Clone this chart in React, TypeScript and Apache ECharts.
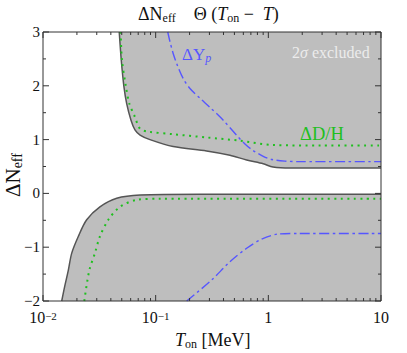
import React, { useEffect, useRef } from "react";
import * as echarts from "echarts";

// Boundary of the upper excluded region [T_on (MeV), ΔNeff]
const upperBoundary: [number, number][] = [
  [0.0475, 3.0], [0.0495, 2.48], [0.0523, 1.98], [0.0553, 1.67], [0.0604, 1.36],
  [0.0655, 1.18], [0.0727, 1.085], [0.089, 1.0], [0.143, 0.87], [0.283, 0.79],
  [0.456, 0.71], [0.642, 0.62], [0.901, 0.55], [1.1, 0.49], [1.56, 0.47], [10, 0.47],
];
// Boundary of the lower excluded region
const lowerBoundary: [number, number][] = [
  [0.01466, -2.0], [0.0155, -1.75], [0.01677, -1.43], [0.01799, -1.11], [0.02057, -0.8],
  [0.02442, -0.49], [0.032, -0.25], [0.0451, -0.09], [0.0727, -0.03], [0.247, -0.015], [10, -0.015],
];
// ΔD/H contours
const dhUpper: [number, number][] = [
  [0.0489, 3.0], [0.0502, 2.48], [0.0545, 1.98], [0.0584, 1.67], [0.0655, 1.42],
  [0.0727, 1.2], [0.085, 1.15], [0.143, 1.1], [0.283, 1.04], [0.56, 0.98],
  [1.1, 0.9], [2.9, 0.89], [10, 0.89],
];
const dhLower: [number, number][] = [
  [0.02325, -2.0], [0.02576, -1.43], [0.0289, -1.11], [0.032, -0.8], [0.038, -0.49],
  [0.0482, -0.25], [0.0678, -0.12], [0.109, -0.1], [10, -0.1],
];
// ΔYp contours
const ypUpper: [number, number][] = [
  [0.128, 3.0], [0.134, 2.82], [0.143, 2.6], [0.1545, 2.4], [0.176, 2.13],
  [0.2015, 1.95], [0.247, 1.77], [0.3032, 1.6], [0.398, 1.36], [0.523, 1.08],
  [0.62, 0.92], [0.73, 0.8], [0.901, 0.69], [1.076, 0.63], [1.404, 0.6], [1.9, 0.59], [10, 0.59],
];
const ypLower: [number, number][] = [
  [0.1884, -2.0], [0.314, -1.61], [0.456, -1.27], [0.642, -1.02], [0.873, -0.85],
  [1.224, -0.755], [1.9, -0.745], [10, -0.745],
];

const xMajorTicks = [0.01, 0.1, 1, 10];
const xMinorTicks = [
  0.02, 0.03, 0.04, 0.05, 0.06, 0.07, 0.08, 0.09,
  0.2, 0.3, 0.4, 0.5, 0.6, 0.7, 0.8, 0.9,
  2, 3, 4, 5, 6, 7, 8, 9,
];
const yMajorTicks = [-2, -1, 0, 1, 2, 3];
const yMinorTicks = [-1.5, -0.5, 0.5, 1.5, 2.5];
const xTickLabels: Record<string, string> = {
  "0.01": "10{sup|−2}",
  "0.1": "10{sup|−1}",
  "1": "1",
  "10": "10",
};

const FILL = "#bebebe";
const EDGE = "#555555";
const GREEN = "#1fbf1f";
const BLUE = "#5656ff";
const FONT = "Liberation Serif";
const FRAME = "#333333";
const INK = "#111111";

export default function App() {
  const ref = useRef<HTMLDivElement>(null);
  useEffect(() => {
    if (!ref.current) return;
    const chart = echarts.init(ref.current, undefined, { renderer: "svg" });

    const xTickData = [
      ...xMajorTicks.map((v) => [v, 0, 6]),
      ...xMinorTicks.map((v) => [v, 0, 3]),
    ];
    const yTickData = [
      ...yMajorTicks.map((v) => [1, v, 6]),
      ...yMinorTicks.map((v) => [1, v, 3]),
    ];

    const option: any = {
      animation: false,
      backgroundColor: "#ffffff",
      textStyle: { fontFamily: FONT },
      grid: { left: 43, right: 26, top: 32, bottom: 52, containLabel: false },
      xAxis: {
        type: "log",
        min: 0.01,
        max: 10,
        logBase: 10,
        axisLine: { show: false },
        axisTick: { show: false },
        splitLine: { show: false },
        axisLabel: {
          margin: 9,
          fontFamily: FONT,
          fontSize: 16,
          color: INK,
          formatter: (v: number) => {
            const key = String(+v.toPrecision(6));
            return xTickLabels[key] ?? "";
          },
          rich: {
            sup: { fontFamily: FONT, fontSize: 11, color: INK, verticalAlign: "top", lineHeight: 8 },
          },
          lineHeight: 14,
        },
      },
      yAxis: {
        type: "value",
        min: -2,
        max: 3,
        interval: 1,
        axisLine: { show: false },
        axisTick: { show: false },
        splitLine: { show: false },
        axisLabel: {
          margin: 3,
          fontFamily: FONT,
          fontSize: 15,
          lineHeight: 12,
          color: INK,
          formatter: (v: number) => (v < 0 ? "−" + Math.abs(v) : String(v)),
        },
      },
      series: [
        {
          type: "line",
          data: upperBoundary,
          showSymbol: false,
          smooth: 0.3,
          lineStyle: { color: EDGE, width: 1.5 },
          areaStyle: { color: FILL, opacity: 1, origin: "end" },
          z: 1,
        },
        {
          type: "line",
          data: lowerBoundary,
          showSymbol: false,
          smooth: 0.3,
          lineStyle: { color: EDGE, width: 1.5 },
          areaStyle: { color: FILL, opacity: 1, origin: "start" },
          z: 1,
        },
        ...[dhUpper, dhLower].map((d) => ({
          type: "line",
          data: d,
          showSymbol: false,
          smooth: 0.3,
          lineStyle: { color: GREEN, width: 2, type: [2, 4.5] },
          z: 3,
        })),
        ...[ypUpper, ypLower].map((d) => ({
          type: "line",
          data: d,
          showSymbol: false,
          smooth: 0.3,
          lineStyle: { color: BLUE, width: 1.4, type: [10, 3.5, 2.5, 3.5] },
          z: 3,
        })),
        {
          type: "custom",
          data: xTickData,
          z: 10,
          silent: true,
          clip: false,
          renderItem: (params: any, api: any) => {
            const v = api.value(0);
            const len = api.value(2);
            const b = api.coord([v, -2]);
            const t = api.coord([v, 3]);
            const st = { stroke: FRAME, lineWidth: 1 };
            return {
              type: "group",
              children: [
                { type: "line", shape: { x1: b[0], y1: b[1], x2: b[0], y2: b[1] - len }, style: st },
                { type: "line", shape: { x1: t[0], y1: t[1], x2: t[0], y2: t[1] + len }, style: st },
              ],
            };
          },
        },
        {
          type: "custom",
          data: yTickData,
          z: 10,
          silent: true,
          clip: false,
          renderItem: (params: any, api: any) => {
            const v = api.value(1);
            const len = api.value(2);
            const l = api.coord([0.01, v]);
            const r = api.coord([10, v]);
            const st = { stroke: FRAME, lineWidth: 1 };
            const children: any[] = [
              { type: "line", shape: { x1: l[0], y1: l[1], x2: l[0] + len, y2: l[1] }, style: st },
              { type: "line", shape: { x1: r[0], y1: r[1], x2: r[0] - len, y2: r[1] }, style: st },
            ];
            if (params.dataIndex === 0) {
              const p0 = api.coord([0.01, 3]);
              const p1 = api.coord([10, -2]);
              children.push({
                type: "rect",
                shape: { x: p0[0], y: p0[1], width: p1[0] - p0[0], height: p1[1] - p0[1] },
                style: { fill: "none", stroke: FRAME, lineWidth: 1 },
              });
            }
            return { type: "group", children };
          },
        },
      ],
      graphic: [
        {
          type: "text",
          x: 138,
          y: 4,
          style: {
            text: "{n|ΔN}{s|eff}{n|    Θ (}{i|T}{s|on}{n| −  }{i|T}{n|)}",
            fontFamily: FONT,
            rich: {
              n: { fontFamily: FONT, fontSize: 18, fill: INK, lineHeight: 20 },
              i: { fontFamily: FONT, fontSize: 18, fontStyle: "italic", fill: INK, lineHeight: 20 },
              s: { fontFamily: FONT, fontSize: 12, fill: INK, lineHeight: 12, verticalAlign: "bottom" },
            },
          },
          z: 20,
        },
        {
          type: "text",
          x: 175,
          y: 329,
          style: {
            text: "{i|T}{s|on}{n| [MeV]}",
            fontFamily: FONT,
            rich: {
              n: { fontFamily: FONT, fontSize: 18, fill: INK, lineHeight: 21 },
              i: { fontFamily: FONT, fontSize: 18, fontStyle: "italic", fill: INK, lineHeight: 21 },
              s: { fontFamily: FONT, fontSize: 12, fill: INK, lineHeight: 12, verticalAlign: "bottom" },
            },
          },
          z: 20,
        },
        {
          type: "text",
          x: 1,
          y: 197,
          rotation: Math.PI / 2,
          style: {
            text: "{n|ΔN}{s|eff}",
            fontFamily: FONT,
            rich: {
              n: { fontFamily: FONT, fontSize: 21, fill: INK, lineHeight: 23 },
              s: { fontFamily: FONT, fontSize: 14, fill: INK, lineHeight: 13, verticalAlign: "bottom" },
            },
          },
          z: 20,
        },
        {
          type: "text",
          x: 292,
          y: 44,
          style: {
            text: "{n|2}{i|σ}{n| excluded}",
            fontFamily: FONT,
            rich: {
              n: { fontFamily: FONT, fontSize: 16, fill: "#ececec" },
              i: { fontFamily: FONT, fontSize: 16, fontStyle: "italic", fill: "#ececec" },
            },
          },
          z: 20,
        },
        {
          type: "text",
          x: 182,
          y: 45,
          style: {
            text: "{n|ΔY}{s|p}",
            fontFamily: FONT,
            rich: {
              n: { fontFamily: FONT, fontSize: 17, fill: BLUE, lineHeight: 19 },
              s: { fontFamily: FONT, fontSize: 12, fontStyle: "italic", fill: BLUE, lineHeight: 11, verticalAlign: "bottom" },
            },
          },
          z: 20,
        },
        {
          type: "text",
          x: 300,
          y: 124,
          style: {
            text: "ΔD/H",
            fontFamily: FONT,
            fontSize: 18.5,
            fill: GREEN,
          },
          z: 20,
        },
      ],
    };
    chart.setOption(option);
    return () => chart.dispose();
  }, []);
  return (
    <div
      ref={ref}
      style={{ position: "absolute", left: 0, top: 0, width: 407, height: 353 }}
    />
  );
}
